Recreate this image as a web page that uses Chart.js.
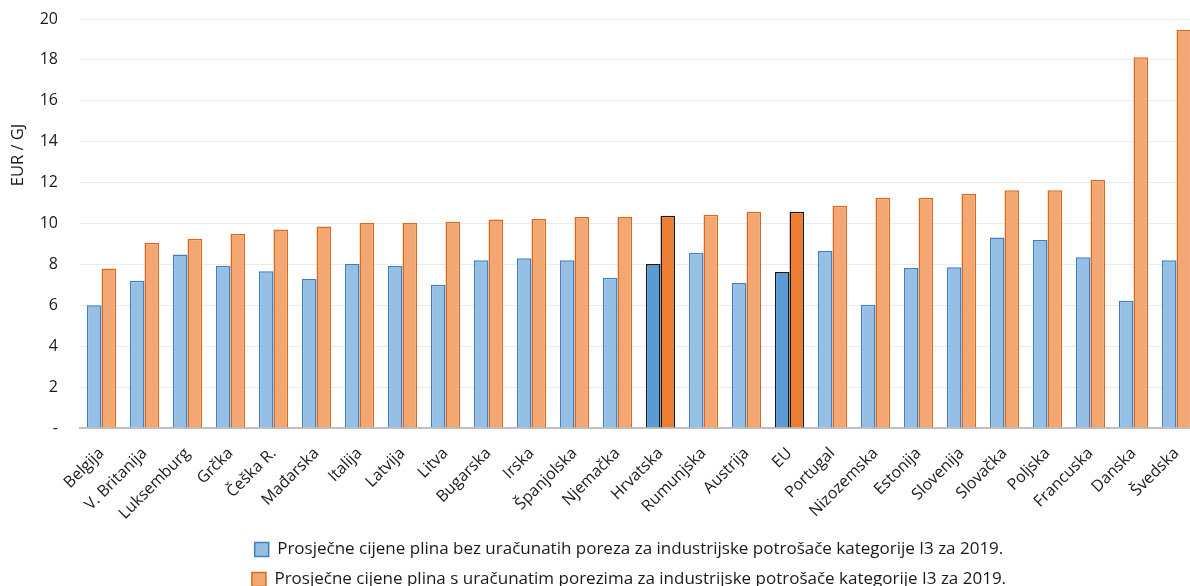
<!DOCTYPE html>
<html><head><meta charset="utf-8">
<script src="https://cdn.jsdelivr.net/npm/chart.js@4/dist/chart.umd.min.js"></script>
<style>html,body{margin:0;padding:0;overflow:hidden;background:#fff}#wrap{width:1198px;height:598px;position:relative}</style>
</head><body><div id="wrap"><canvas id="c"></canvas></div>
<script>
const categories = ['Belgija','V. Britanija','Luksemburg','Grčka','Češka R.','Mađarska','Italija','Latvija','Litva','Bugarska','Irska','Španjolska','Njemačka','Hrvatska','Rumunjska','Austrija','EU','Portugal','Nizozemska','Estonija','Slovenija','Slovačka','Poljska','Francuska','Danska','Švedska'];
const noTax = [6.0,7.2,8.49,7.94,7.66,7.29,8.02,7.92,7.01,8.2,8.3,8.2,7.35,8.02,8.57,7.09,7.63,8.66,6.03,7.82,7.86,9.32,9.19,8.35,6.22,8.2];
const withTax = [7.8,9.06,9.26,9.49,9.71,9.85,10.02,10.02,10.09,10.19,10.22,10.32,10.32,10.38,10.43,10.58,10.58,10.87,11.26,11.26,11.46,11.62,11.62,12.13,18.13,19.46];
const highlighted = ['Hrvatska','EU'];
const seriesNames = ['Prosječne cijene plina bez uračunatih poreza za industrijske potrošače kategorije I3 za 2019.','Prosječne cijene plina s uračunatim porezima za industrijske potrošače kategorije I3 za 2019.'];
const yTicks = [0,2,4,6,8,10,12,14,16,18,20];
const yTitle = 'EUR / GJ';

const FONT = '"Open Sans", sans-serif';
const isHi = c => c.dataIndex !== undefined && highlighted.includes(categories[c.dataIndex]);

const yTitlePlugin = {
  id:'yTitle',
  afterLayout(chart){
    if (chart.legend) { chart.legend.left -= 10; chart.legend.right -= 10; }
  },
  afterDraw(chart){
    const ctx = chart.ctx;
    ctx.save();
    ctx.translate(18, 155);
    ctx.rotate(-Math.PI/2);
    ctx.font = '16.5px ' + FONT;
    ctx.fillStyle = '#1a1a1a';
    ctx.textAlign = 'center';
    ctx.textBaseline = 'middle';
    ctx.fillText(yTitle, 0, 0);
    ctx.restore();
  }
};

new Chart(document.getElementById('c'), {
  type:'bar',
  data:{
    labels: categories,
    datasets:[
      {label: seriesNames[0], data: noTax,
       backgroundColor: c => isHi(c) ? '#5b9bd5' : '#95bfe5',
       borderColor: c => isHi(c) ? '#1a1a1a' : '#3f7fc2',
       borderWidth: 1.5, categoryPercentage: 0.68, barPercentage: 1.0},
      {label: seriesNames[1], data: withTax,
       backgroundColor: c => isHi(c) ? '#ed7d31' : '#f3a772',
       borderColor: c => isHi(c) ? '#1a1a1a' : '#d9691f',
       borderWidth: 1.5, categoryPercentage: 0.68, barPercentage: 1.0}
    ]
  },
  options:{
    responsive:true, maintainAspectRatio:false, animation:false,
    layout:{padding:{top:19,left:0,right:0,bottom:0}},
    plugins:{
      legend:{position:'bottom', fullSize:false,
        labels:{boxWidth:14, boxHeight:14, padding:13, color:'#1a1a1a', font:{family:FONT, size:17}}},
      tooltip:{enabled:false}
    },
    scales:{
      x:{grid:{display:false}, border:{color:'#c0c0c0', width:2},
         ticks:{maxRotation:45, minRotation:45, autoSkip:false, padding:8, color:'#1a1a1a', font:{family:FONT, size:16}},
         afterFit(s){ s.height = 100; s.paddingLeft = 0; s.paddingRight = 0; }},
      y:{min:0, max:20,
         afterBuildTicks(s){ s.ticks = yTicks.map(v => ({value:v})); },
         ticks:{padding:22, color:'#1a1a1a', font:{family:FONT, size:16}, callback: v => v === 0 ? '-' : v},
         grid:{color:'#ebebeb', drawTicks:false}, border:{display:false},
         afterFit(s){ s.width = 80; s.paddingTop = 0; s.paddingBottom = 0; }}
    }
  },
  plugins:[yTitlePlugin]
});
</script></body></html>
